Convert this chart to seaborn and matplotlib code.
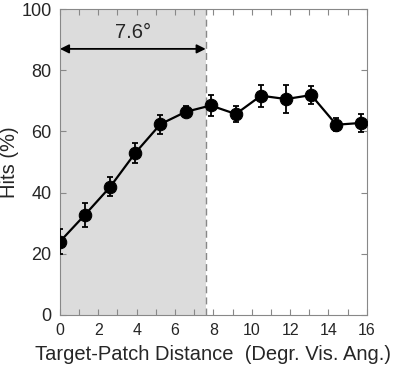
import seaborn as sns
import pandas as pd
import numpy as np
import matplotlib.pyplot as plt

# target-patch distance (deg) and hit rate (%) with error bars
distance = [0, 1.31, 2.62, 3.93, 5.24, 6.55, 7.86, 9.17, 10.48, 11.79, 13.1, 14.41, 15.72]
hits = [24.0, 32.8, 41.9, 53.0, 62.4, 66.4, 68.5, 65.7, 71.7, 70.6, 71.9, 62.2, 62.8]
err = [4.1, 3.9, 3.1, 3.3, 3.1, 1.8, 3.4, 2.7, 3.6, 4.6, 3.0, 2.2, 3.0]
span = 7.6

df = pd.DataFrame({"dist": distance, "hits": hits, "err": err})

sns.set_style("ticks")
plt.rcParams['font.family'] = ['Liberation Sans', 'DejaVu Sans']

fig = plt.figure(figsize=(3.97, 3.65), dpi=100)
ax = fig.add_axes([0.151, 0.137, 0.773, 0.838])

ax.axvspan(0, span, color='#dcdcdc', lw=0, zorder=0)
ax.axvline(span, color='#888888', ls=(0, (5, 3)), lw=1, zorder=1)

ax.errorbar(df.dist, df.hits, yerr=df.err, fmt='none', ecolor='black',
            elinewidth=1.3, capsize=2, capthick=1.3, zorder=3)
sns.lineplot(data=df, x="dist", y="hits", ax=ax, color='black', lw=1.6,
             marker='o', markersize=9, markeredgecolor='black', zorder=4)

ax.annotate('', xy=(0, 87), xytext=(span, 87),
            arrowprops=dict(arrowstyle='<|-|>', color='black', lw=1.3,
                            mutation_scale=13, shrinkA=0, shrinkB=0))
ax.text(span / 2, 89.3, '7.6°', ha='center', va='bottom', fontsize=14.5)

ax.set_xlim(0, 16)
ax.set_ylim(0, 100)
ax.set_xticks(range(0, 17, 2))
ax.set_xticks(range(0, 17), minor=True)
ax.set_yticks(range(0, 101, 20))
ax.tick_params(which='both', direction='in', top=True, right=True,
               length=4, width=0.8, color='#888888', labelsize=11.5)
ax.tick_params(axis='x', pad=6)
ax.tick_params(axis='y', labelsize=13, pad=6)
for s in ax.spines.values():
    s.set_color('#888888')
    s.set_linewidth(0.8)

ax.set_xlabel('Target-Patch Distance  (Degr. Vis. Ang.)', fontsize=14.5, labelpad=5)
ax.set_ylabel('Hits (%)', fontsize=14.5)
ax.yaxis.set_label_coords(-0.135, 0.5)

fig.savefig('out.png', dpi=100)
